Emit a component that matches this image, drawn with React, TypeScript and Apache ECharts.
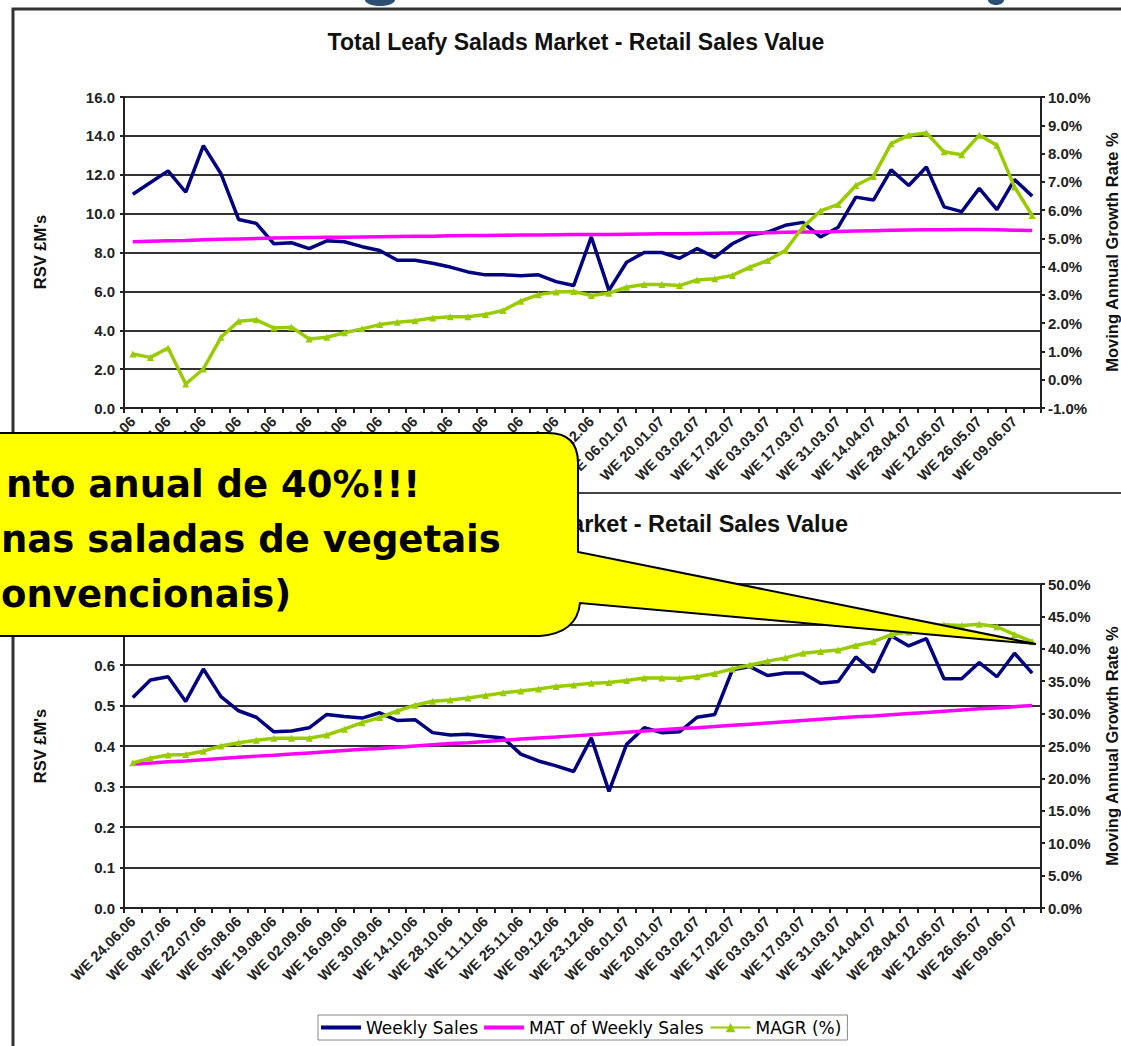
import React, { useEffect, useRef } from "react";
import * as echarts from "echarts";

// ---------- DATA ----------
const weeks = [
  "WE 24.06.06", "WE 01.07.06", "WE 08.07.06", "WE 15.07.06", "WE 22.07.06", "WE 29.07.06",
  "WE 05.08.06", "WE 12.08.06", "WE 19.08.06", "WE 26.08.06", "WE 02.09.06", "WE 09.09.06",
  "WE 16.09.06", "WE 23.09.06", "WE 30.09.06", "WE 07.10.06", "WE 14.10.06", "WE 21.10.06",
  "WE 28.10.06", "WE 04.11.06", "WE 11.11.06", "WE 18.11.06", "WE 25.11.06", "WE 02.12.06",
  "WE 09.12.06", "WE 16.12.06", "WE 23.12.06", "WE 30.12.06", "WE 06.01.07", "WE 13.01.07",
  "WE 20.01.07", "WE 27.01.07", "WE 03.02.07", "WE 10.02.07", "WE 17.02.07", "WE 24.02.07",
  "WE 03.03.07", "WE 10.03.07", "WE 17.03.07", "WE 24.03.07", "WE 31.03.07", "WE 07.04.07",
  "WE 14.04.07", "WE 21.04.07", "WE 28.04.07", "WE 05.05.07", "WE 12.05.07", "WE 19.05.07",
  "WE 26.05.07", "WE 02.06.07", "WE 09.06.07", "WE 16.06.07",
];

// Top chart: Total Leafy Salads Market (RSV £M's, MAGR %)
const totalWeeklySales = [
  11.0, 11.6, 12.2, 11.1, 13.5, 12.05, 9.7, 9.5, 8.45, 8.5, 8.2, 8.6, 8.55, 8.3, 8.1, 7.6, 7.6,
  7.45, 7.25, 7.0, 6.85, 6.85, 6.8, 6.85, 6.5, 6.3, 8.8, 6.05, 7.5, 8.0, 8.0, 7.7, 8.2, 7.75,
  8.45, 8.9, 9.05, 9.4, 9.55, 8.8, 9.3, 10.85, 10.7, 12.25, 11.45, 12.4, 10.35, 10.1, 11.3,
  10.2, 11.75, 10.9,
];
const totalMAT = [
  8.55, 8.58, 8.6, 8.62, 8.65, 8.68, 8.7, 8.72, 8.74, 8.76, 8.77, 8.78, 8.79, 8.8, 8.81, 8.82,
  8.83, 8.84, 8.86, 8.87, 8.88, 8.89, 8.9, 8.9, 8.91, 8.92, 8.92, 8.93, 8.94, 8.95, 8.96, 8.97,
  8.98, 8.99, 9.0, 9.01, 9.02, 9.04, 9.05, 9.06, 9.08, 9.1, 9.12, 9.14, 9.16, 9.17, 9.17, 9.18,
  9.18, 9.17, 9.15, 9.13,
];
const totalMAGR = [
  0.91, 0.79, 1.12, -0.15, 0.38, 1.5, 2.07, 2.12, 1.83, 1.86, 1.44, 1.5, 1.66, 1.8, 1.95, 2.03,
  2.09, 2.18, 2.23, 2.23, 2.31, 2.45, 2.78, 3.01, 3.1, 3.12, 2.98, 3.06, 3.27, 3.37, 3.37, 3.33,
  3.53, 3.57, 3.69, 3.98, 4.22, 4.57, 5.4, 5.97, 6.2, 6.87, 7.19, 8.35, 8.65, 8.73, 8.06, 7.96,
  8.65, 8.29, 6.82, 5.81,
];

// Bottom chart (RSV £M's, MAGR %)
const orgWeeklySales = [
  0.52, 0.563, 0.571, 0.51, 0.59, 0.522, 0.487, 0.471, 0.435, 0.437, 0.445, 0.478, 0.473, 0.469,
  0.482, 0.463, 0.465, 0.433, 0.427, 0.429, 0.424, 0.42, 0.38, 0.363, 0.351, 0.337, 0.42, 0.288,
  0.404, 0.445, 0.433, 0.435, 0.471, 0.478, 0.588, 0.596, 0.574, 0.58, 0.58, 0.555, 0.559, 0.62,
  0.582, 0.672, 0.647, 0.665, 0.566, 0.566, 0.606, 0.571, 0.629, 0.58,
];
const orgMAT = [
  0.355, 0.358, 0.361, 0.363, 0.366, 0.369, 0.372, 0.375, 0.377, 0.38, 0.383, 0.386, 0.389,
  0.392, 0.394, 0.397, 0.4, 0.403, 0.406, 0.408, 0.411, 0.414, 0.417, 0.42, 0.422, 0.425, 0.428,
  0.431, 0.434, 0.437, 0.44, 0.443, 0.445, 0.448, 0.451, 0.454, 0.457, 0.46, 0.463, 0.466,
  0.469, 0.472, 0.474, 0.477, 0.48, 0.483, 0.486, 0.489, 0.492, 0.494, 0.497, 0.5,
];
const orgMAGR = [
  22.4, 23.1, 23.6, 23.7, 24.2, 25.0, 25.5, 25.9, 26.2, 26.2, 26.2, 26.7, 27.6, 28.6, 29.4, 30.4,
  31.3, 31.9, 32.1, 32.4, 32.8, 33.2, 33.5, 33.8, 34.2, 34.4, 34.7, 34.8, 35.1, 35.5, 35.5, 35.4,
  35.7, 36.2, 36.9, 37.5, 38.1, 38.6, 39.3, 39.6, 39.8, 40.5, 41.1, 42.2, 42.6, 43.4, 43.7, 43.6,
  43.8, 43.4, 42.2, 41.1,
];

const seriesNames = ["Weekly Sales", "MAT of Weekly Sales", "MAGR (%)"];
const topTitle = "Total Leafy Salads Market - Retail Sales Value";
const bottomTitle = "Organic Leafy Salads Market - Retail Sales Value";
const leftAxisName = "RSV £M's";
const rightAxisName = "Moving Annual Growth Rate %";
const calloutLines = ["nto anual de 40%!!!", "nas saladas de vegetais", "onvencionais)"];

// ---------- STYLE ----------
const FONT = "'Liberation Sans', Arial, Helvetica, sans-serif";
const CALLOUT_FONT = "'DejaVu Sans', Verdana, sans-serif";
const NAVY = "#000080";
const MAGENTA = "#ff00ff";
const GREEN = "#99cc00";
const LINE_ICON = "path://M0 0 H40 V4 H0 Z";

const calloutPath =
  "M -10 433 L 548 433 Q 578 433 578 463 L 578 552 L 1036 644 L 580 603 Q 577 633 540 636 L -10 636 Z";
echarts.graphic.registerShape("calloutBubble", echarts.graphic.extendPath(calloutPath, {}));

function xAxis(gridIndex: number) {
  return {
    type: "category",
    gridIndex,
    data: weeks,
    boundaryGap: true,
    axisLine: { show: true, lineStyle: { color: "#222", width: 2 } },
    axisTick: { show: true, interval: 0, length: 5, lineStyle: { color: "#222", width: 2 } },
    axisLabel: {
      interval: 1,
      rotate: 45,
      margin: 11,
      fontSize: 14.5,
      fontWeight: "bold",
      color: "#222",
      fontFamily: FONT,
    },
    splitLine: { show: false },
  };
}

function yAxis(
  gridIndex: number,
  position: "left" | "right",
  min: number,
  max: number,
  interval: number,
  fmt: (v: number) => string,
  grid: boolean
) {
  return {
    type: "value",
    gridIndex,
    position,
    min,
    max,
    interval,
    axisLine: { show: true, lineStyle: { color: "#222", width: 2 } },
    axisTick: { show: true, length: 4, lineStyle: { color: "#222", width: 2 } },
    axisLabel: {
      formatter: fmt,
      fontSize: 15,
      fontWeight: "bold",
      color: "#222",
      margin: position === "left" ? 9 : 7,
      fontFamily: FONT,
    },
    splitLine: { show: grid, lineStyle: { color: "#333", width: 2 } },
  };
}

function lineSeries(name: string, x: number, y: number, data: number[], color: string, marker: boolean) {
  return {
    type: "line",
    name,
    xAxisIndex: x,
    yAxisIndex: y,
    data,
    color,
    lineStyle: { color, width: 3.5 },
    itemStyle: { color },
    symbol: marker ? "triangle" : "none",
    symbolSize: marker ? 7 : 0,
    showSymbol: marker,
    smooth: false,
  };
}

function nameText(text: string, x: number, y: number) {
  return {
    type: "text",
    x,
    y,
    rotation: Math.PI / 2,
    style: {
      text,
      align: "center",
      verticalAlign: "middle",
      fontSize: 16.5,
      fontWeight: "bold",
      fontFamily: FONT,
      fill: "#111",
    },
    z: 5,
  };
}

function calloutText(text: string, x: number, y: number) {
  return {
    type: "text",
    x,
    y,
    style: {
      text,
      align: "left",
      verticalAlign: "middle",
      fontSize: 37,
      fontWeight: "bold",
      fontFamily: CALLOUT_FONT,
      fill: "#000",
    },
    z: 101,
  };
}

const option = {
  animation: false,
  backgroundColor: "#ffffff",
  grid: [
    { left: 124, right: 80, top: 97, height: 311, containLabel: false, outerBoundsMode: "none" },
    { left: 124, right: 80, top: 584, height: 324, containLabel: false, outerBoundsMode: "none" },
  ],
  xAxis: [xAxis(0), xAxis(1)],
  yAxis: [
    yAxis(0, "left", 0, 16, 2, (v: number) => v.toFixed(1), true),
    yAxis(0, "right", -1, 10, 1, (v: number) => v.toFixed(1) + "%", false),
    // labels 0.7 / 0.8 lie under the callout bubble and are not visible in the reference
    yAxis(1, "left", 0, 0.8, 0.1, (v: number) => (v > 0.65 ? "" : v.toFixed(1)), true),
    yAxis(1, "right", 0, 50, 5, (v: number) => v.toFixed(1) + "%", false),
  ],
  legend: {
    data: [
      { name: seriesNames[0], icon: LINE_ICON },
      { name: seriesNames[1], icon: LINE_ICON },
      { name: seriesNames[2] },
    ],
    left: 318,
    top: 1015,
    orient: "horizontal",
    itemWidth: 40,
    itemHeight: 12,
    itemGap: 6,
    padding: [4, 6, 4, 3],
    borderColor: "#888",
    borderWidth: 1,
    backgroundColor: "#fff",
    textStyle: { fontFamily: CALLOUT_FONT, fontSize: 17, color: "#000" },
  },
  series: [
    lineSeries(seriesNames[0], 0, 0, totalWeeklySales, NAVY, false),
    lineSeries(seriesNames[1], 0, 0, totalMAT, MAGENTA, false),
    lineSeries(seriesNames[2], 0, 1, totalMAGR, GREEN, true),
    lineSeries(seriesNames[0], 1, 2, orgWeeklySales, NAVY, false),
    lineSeries(seriesNames[1], 1, 2, orgMAT, MAGENTA, false),
    lineSeries(seriesNames[2], 1, 3, orgMAGR, GREEN, true),
  ],
  graphic: [
    // frame lines
    {
      type: "polyline",
      shape: { points: [[13, 1046], [13, 9], [1121, 9]] },
      style: { stroke: "#333", lineWidth: 3, fill: "none" },
      z: 1,
    },
    {
      type: "line",
      shape: { x1: 13, y1: 493, x2: 1121, y2: 493 },
      style: { stroke: "#444", lineWidth: 2 },
      z: 1,
    },
    // remnants of the slide heading above
    { type: "ellipse", shape: { cx: 380, cy: 0, rx: 15, ry: 6 }, style: { fill: "#2b4f72" }, z: 1 },
    { type: "ellipse", shape: { cx: 996, cy: 0, rx: 8, ry: 5 }, style: { fill: "#2b4f72" }, z: 1 },
    // titles
    {
      type: "text",
      x: 576,
      y: 42,
      style: {
        text: topTitle,
        align: "center",
        verticalAlign: "middle",
        fontSize: 23,
        fontWeight: "bold",
        fontFamily: FONT,
        fill: "#111",
      },
      z: 5,
    },
    {
      type: "text",
      x: 848,
      y: 524,
      style: {
        text: bottomTitle,
        align: "right",
        verticalAlign: "middle",
        fontSize: 23.5,
        fontWeight: "bold",
        fontFamily: FONT,
        fill: "#111",
      },
      z: 5,
    },
    nameText(leftAxisName, 40, 252),
    nameText(leftAxisName, 40, 746),
    nameText(rightAxisName, 1112, 252),
    nameText(rightAxisName, 1112, 746),
    // callout bubble
    {
      type: "calloutBubble",
      x: 0,
      y: 0,
      style: { fill: "#ffff00", stroke: "#000", lineWidth: 2 },
      z: 100,
    },
    calloutText(calloutLines[0], 6, 484),
    calloutText(calloutLines[1], 1, 539),
    calloutText(calloutLines[2], 1, 594),
  ],
};

export default function App() {
  const ref = useRef<HTMLDivElement>(null);
  useEffect(() => {
    document.body.style.margin = "0";
    const chart = echarts.init(ref.current as HTMLDivElement, null, { renderer: "svg" });
    chart.setOption(option as any);
    return () => chart.dispose();
  }, []);
  return (
    <div
      ref={ref}
      style={{ position: "absolute", left: 0, top: 0, width: 1121, height: 1046, background: "#fff" }}
    />
  );
}
